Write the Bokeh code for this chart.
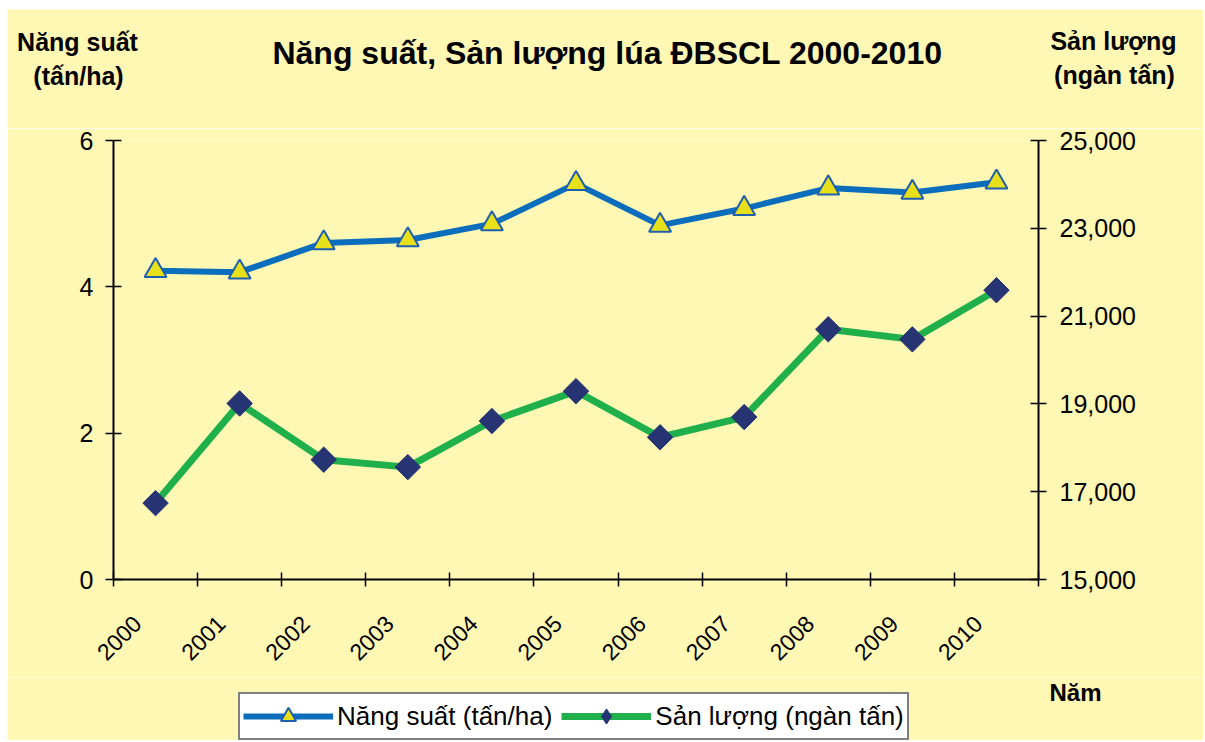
import math
from bokeh.plotting import figure
from bokeh.models import (Range1d, LinearAxis, FixedTicker, NumeralTickFormatter,
                          Legend, LegendItem, Label, ColumnDataSource)
from bokeh.embed import file_html
from bokeh.resources import INLINE

years = ["2000", "2001", "2002", "2003", "2004", "2005", "2006", "2007", "2008", "2009", "2010"]
nang_suat = [4.22, 4.20, 4.60, 4.64, 4.86, 5.41, 4.84, 5.07, 5.35, 5.29, 5.43]
san_luong = [16740, 19010, 17730, 17560, 18610, 19290, 18240, 18700, 20700, 20470, 21590]
left_ticks = [0, 2, 4, 6]
right_ticks = [15000, 17000, 19000, 21000, 23000, 25000]

BG = "#FFF7B4"
FONT = "Liberation Sans"
BLUE = "#0A6EBD"
YELLOW = "#E8E11A"
TRI_EDGE = "#1F5FAF"
GREEN = "#20B04B"
NAVY = "#263473"

W = 1196
H_HEAD, H_MAIN, H_FOOT = 119, 549, 63
FL, FR, FT, FB = 106, 165, 12, 98

n = len(years)
xs = [i + 0.5 for i in range(n)]
src = ColumnDataSource(dict(x=xs, ns=nang_suat, sl=san_luong))


def blank(h, margin):
    f = figure(width=W, height=h, output_backend="svg", toolbar_location=None,
               x_range=Range1d(0, W), y_range=Range1d(0, h),
               x_axis_location=None, y_axis_location=None, min_border=0, margin=margin)
    f.background_fill_color = BG
    f.border_fill_color = BG
    f.outline_line_color = None
    f.grid.visible = False
    return f


def lab(f, text, x, y, size, bold=True):
    # x: canvas pixel from left; y: canvas pixel from bottom
    f.add_layout(Label(x=x, y=y, x_units="screen", y_units="screen", text=text,
                       text_font=FONT, text_font_size=size, text_color="black",
                       text_font_style="bold" if bold else "normal",
                       text_align="center", text_baseline="middle"))


# ---------- header ----------
head = blank(H_HEAD, (9, 0, 0, 7))
lab(head, "Năng suất, Sản lượng lúa ĐBSCL 2000-2010", 600, 76, "32px")
lab(head, "Năng suất", 70, 87, "25px")
lab(head, "(tấn/ha)", 71, 53, "25px")
lab(head, "Sản lượng", 1106, 88, "25px")
lab(head, "(ngàn tấn)", 1107, 54, "25px")

# ---------- main chart ----------
p = figure(width=W, height=H_MAIN, output_backend="svg", toolbar_location=None,
           x_range=Range1d(0, n), y_range=Range1d(left_ticks[0], left_ticks[-1]),
           min_border_left=FL, min_border_right=FR, min_border_top=FT, min_border_bottom=FB,
           margin=(0, 0, 0, 7))
p.extra_y_ranges = {"prod": Range1d(right_ticks[0], right_ticks[-1])}
p.background_fill_color = BG
p.border_fill_color = BG
p.outline_line_color = None
p.xgrid.visible = False
p.ygrid.visible = False

label_pos = [x - 0.22 for x in xs]
xa = p.xaxis[0]
xa.ticker = FixedTicker(ticks=label_pos, minor_ticks=list(range(n + 1)))
xa.major_label_overrides = {x: y for x, y in zip(label_pos, years)}
xa.major_tick_line_color = None
xa.major_tick_out = 7
xa.minor_tick_in = 7
xa.minor_tick_out = 7
xa.minor_tick_line_color = "black"
xa.minor_tick_line_width = 1.5
xa.axis_line_width = 2
xa.major_label_orientation = math.pi / 4
xa.major_label_text_font = FONT
xa.major_label_text_font_size = "23px"
xa.major_label_text_color = "black"
xa.major_label_standoff = 33

ya = p.yaxis[0]
ya.ticker = FixedTicker(ticks=left_ticks)
ya.minor_tick_line_color = None
ya.major_tick_in = 8
ya.major_tick_out = 8
ya.major_tick_line_width = 1.5
ya.axis_line_width = 2
ya.major_label_text_font = FONT
ya.major_label_text_font_size = "25px"
ya.major_label_text_color = "black"
ya.major_label_standoff = 12

ra = LinearAxis(y_range_name="prod")
ra.ticker = FixedTicker(ticks=right_ticks)
ra.formatter = NumeralTickFormatter(format="0,0")
ra.minor_tick_line_color = None
ra.major_tick_in = 8
ra.major_tick_out = 8
ra.major_tick_line_width = 1.5
ra.axis_line_width = 2
ra.major_label_text_font = FONT
ra.major_label_text_font_size = "25px"
ra.major_label_text_color = "black"
ra.major_label_standoff = 13
p.add_layout(ra, "right")

line_ns = dict(line_color=BLUE, line_width=6)
mark_ns = dict(marker="triangle", fill_color=YELLOW, line_color=TRI_EDGE, line_width=2)
line_sl = dict(line_color=GREEN, line_width=7)

p.line("x", "ns", source=src, **line_ns)
p.scatter("x", "ns", source=src, size=22, **mark_ns)
p.line("x", "sl", source=src, y_range_name="prod", **line_sl)
p.scatter("x", "sl", source=src, y_range_name="prod", size=18, marker="square",
          angle=math.pi / 4, fill_color=NAVY, line_color=NAVY, line_width=1)

# ---------- footer with legend ----------
foot = blank(H_FOOT, (0, 0, 0, 7))
fl1 = foot.line("x", "ns", source=src, visible=False, **line_ns)
fm1 = foot.scatter("x", "ns", source=src, size=22, visible=False, **mark_ns)
fl2 = foot.line("x", "sl", source=src, visible=False, **line_sl)
fm2 = foot.scatter("x", "sl", source=src, size=18, visible=False, marker="diamond",
                   fill_color=NAVY, line_color=NAVY, line_width=1)

legend = Legend(items=[LegendItem(label="Năng suất (tấn/ha)", renderers=[fl1, fm1]),
                       LegendItem(label="Sản lượng (ngàn tấn)", renderers=[fl2, fm2])],
                orientation="horizontal", location=(238 - 7, 0),
                background_fill_color="white", background_fill_alpha=1,
                border_line_color="black", border_line_width=2,
                label_text_font=FONT, label_text_font_size="26px", label_text_color="black",
                glyph_width=90, glyph_height=38, padding=3, spacing=9,
                label_standoff=4, margin=0)
foot.add_layout(legend, "center")
lab(foot, "Năm", 1068, 48, "24px")

open("out.html", "w").write(file_html([head, p, foot], INLINE))
